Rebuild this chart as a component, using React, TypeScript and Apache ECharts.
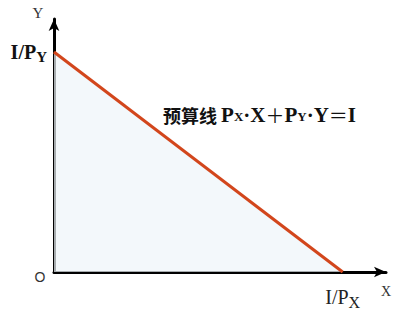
import React, { useEffect, useRef } from "react";
import * as echarts from "echarts";

// budget line endpoints: intercepts I/Py on Y and I/Px on X
const budgetX = [0, 10];
const budgetY = [10, 0];
const axisMax = 11.5;
const interceptX = [10];
const interceptY = [10];
const xTickLabel = "{n|I/P}{sn|X}";
const yTickLabel = "{b|I/P}{sb|Y}";
const equationLabel = "{cn|预算线 }{b|P}{s|X}{b|·X}{op|＋}{b|P}{s|Y}{b|·Y}{op|＝}{b|I}";

const serif = "'Liberation Serif', 'DejaVu Serif', serif";
const cjk = "'Noto Sans CJK SC', sans-serif";

export default function App() {
  const ref = useRef<HTMLDivElement>(null);
  useEffect(() => {
    if (!ref.current) return;
    const chart = echarts.init(ref.current, null, { renderer: "svg" });
    const data = budgetX.map((x, i) => [x, budgetY[i]]);
    chart.setOption({
      animation: false,
      grid: { left: 54, right: 7, top: 19, bottom: 39 },
      xAxis: {
        type: "value",
        min: 0,
        max: axisMax,
        splitLine: { show: false },
        axisTick: { show: false },
        axisLine: {
          onZero: false,
          lineStyle: { color: "#000", width: 3 },
          symbol: ["none", "arrow"],
          symbolSize: [8, 12],
        },
        axisLabel: {
          customValues: interceptX,
          formatter: () => xTickLabel,
          margin: 12,
          rich: {
            n: { fontFamily: serif, fontSize: 20, color: "#222", lineHeight: 22 },
            sn: { fontFamily: serif, fontSize: 16, color: "#222", padding: [10, 0, 0, 0] },
          },
        },
      },
      yAxis: {
        type: "value",
        min: 0,
        max: axisMax,
        splitLine: { show: false },
        axisTick: { show: false },
        axisLine: {
          onZero: false,
          lineStyle: { color: "#000", width: 3 },
          symbol: ["none", "arrow"],
          symbolSize: [8, 12],
        },
        axisLabel: {
          customValues: interceptY,
          formatter: () => yTickLabel,
          margin: 7,
          rich: {
            b: { fontFamily: serif, fontSize: 20, fontWeight: "bold", color: "#111", lineHeight: 20 },
            sb: { fontFamily: serif, fontSize: 15, fontWeight: "bold", color: "#111", padding: [9, 0, 0, 0] },
          },
        },
      },
      graphic: [
        {
          type: "text",
          left: 163,
          top: 104,
          style: {
            text: equationLabel,
            rich: {
              cn: { fontFamily: cjk, fontSize: 18, fontWeight: "bold", fill: "#111" },
              b: { fontFamily: serif, fontSize: 21, fontWeight: "bold", fill: "#111" },
              s: { fontFamily: serif, fontSize: 13, fontWeight: "bold", fill: "#111", padding: [3, 0, 0, 0] },
              op: { fontFamily: cjk, fontSize: 19, fontWeight: "normal", fill: "#111" },
            },
          },
        },
        {
          type: "text",
          x: 40,
          y: 277,
          style: { text: "O", fontFamily: "'Liberation Sans', Arial, sans-serif", fontSize: 14, fill: "#333", align: "center", verticalAlign: "middle" },
        },
        {
          type: "text",
          x: 38,
          y: 13,
          style: { text: "Y", fontFamily: serif, fontSize: 15, fill: "#333", align: "center", verticalAlign: "middle" },
        },
        {
          type: "text",
          x: 386,
          y: 291,
          style: { text: "X", fontFamily: serif, fontSize: 14, fill: "#333", align: "center", verticalAlign: "middle" },
        },
      ],
      series: [
        {
          type: "line",
          data,
          symbol: "none",
          lineStyle: { color: "#d2461c", width: 3 },
          areaStyle: { color: "#eef5fa" },
          z: 1,
        },
      ],
    });
    return () => chart.dispose();
  }, []);
  return <div ref={ref} style={{ width: 393, height: 311, position: "fixed", left: 0, top: 0, background: "#fff" }} />;
}
